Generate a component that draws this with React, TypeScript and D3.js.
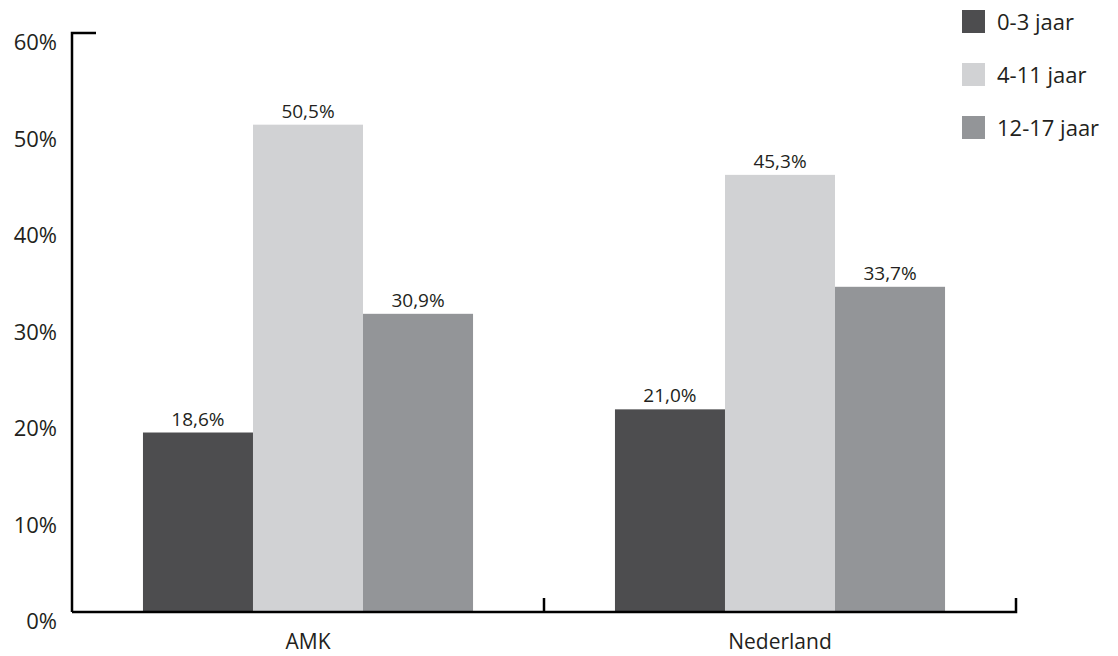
import React from "react";
import * as d3 from "d3";

const categories = ["AMK", "Nederland"];
const seriesNames = ["0-3 jaar", "4-11 jaar", "12-17 jaar"];
const seriesColors = ["#4d4d4f", "#d1d2d4", "#939598"];
const amkValues = [18.6, 50.5, 30.9];
const nederlandValues = [21.0, 45.3, 33.7];
const yTicks = [0, 10, 20, 30, 40, 50, 60];

const values = [amkValues, nederlandValues];

export default function App() {
  const W = 1118, H = 656;
  const x0 = 72, x1 = 1016, yTop = 33, yBottom = 612;
  const font = "'Open Sans', 'Noto Sans', sans-serif";
  const y = d3.scaleLinear().domain([0, 60]).range([yBottom, yTop]);
  const xg = d3.scaleBand<string>().domain(categories).range([x0, x1]).padding(0);
  const xs = d3
    .scaleBand<string>()
    .domain(seriesNames)
    .range([0, xg.bandwidth()])
    .paddingInner(0)
    .paddingOuter(0.645);
  const fmt = (v: number) => v.toFixed(1).replace(".", ",") + "%";

  return (
    <svg width={W} height={H} style={{ position: "absolute", left: 0, top: 0, background: "#fff" }}>
      {/* bars */}
      {categories.map((c, ci) => (
        <g key={c}>
          {seriesNames.map((s, si) => {
            const v = values[ci][si];
            const bx = (xg(c) as number) + (xs(s) as number);
            return (
              <g key={s}>
                <rect x={bx} y={y(v)} width={xs.bandwidth()} height={yBottom - y(v)} fill={seriesColors[si]} />
                <text
                  x={bx + xs.bandwidth() / 2}
                  y={y(v) - 7}
                  textAnchor="middle"
                  fontFamily={font}
                  fontSize={19}
                  fill="#231f20"
                >
                  {fmt(v)}
                </text>
              </g>
            );
          })}
          <text
            x={(xg(c) as number) + xg.bandwidth() / 2}
            y={649}
            textAnchor="middle"
            fontFamily={font}
            fontSize={21}
            fill="#231f20"
          >
            {c}
          </text>
        </g>
      ))}
      {/* y axis */}
      <path d={`M${x0 + 24},${yTop} H${x0} V${yBottom}`} fill="none" stroke="#000" strokeWidth={2.5} />
      {yTicks.map((t) => (
        <text
          key={t}
          x={57}
          y={y(t) + 17}
          textAnchor="end"
          fontFamily={font}
          fontSize={22}
          fill="#231f20"
        >
          {t + "%"}
        </text>
      ))}
      {/* x axis */}
      <path d={`M${x0},${yBottom} H${x1} V${yBottom - 14}`} fill="none" stroke="#000" strokeWidth={2.5} />
      {categories.slice(1).map((c) => (
        <line key={c} x1={xg(c)} x2={xg(c)} y1={yBottom} y2={yBottom - 14} stroke="#000" strokeWidth={2.5} />
      ))}
      {/* legend */}
      {seriesNames.map((s, i) => (
        <g key={s} transform={`translate(962, ${10 + i * 53})`}>
          <rect width={23} height={23} fill={seriesColors[i]} />
          <text x={35} y={20} fontFamily={font} fontSize={22} fill="#231f20">
            {s}
          </text>
        </g>
      ))}
    </svg>
  );
}
